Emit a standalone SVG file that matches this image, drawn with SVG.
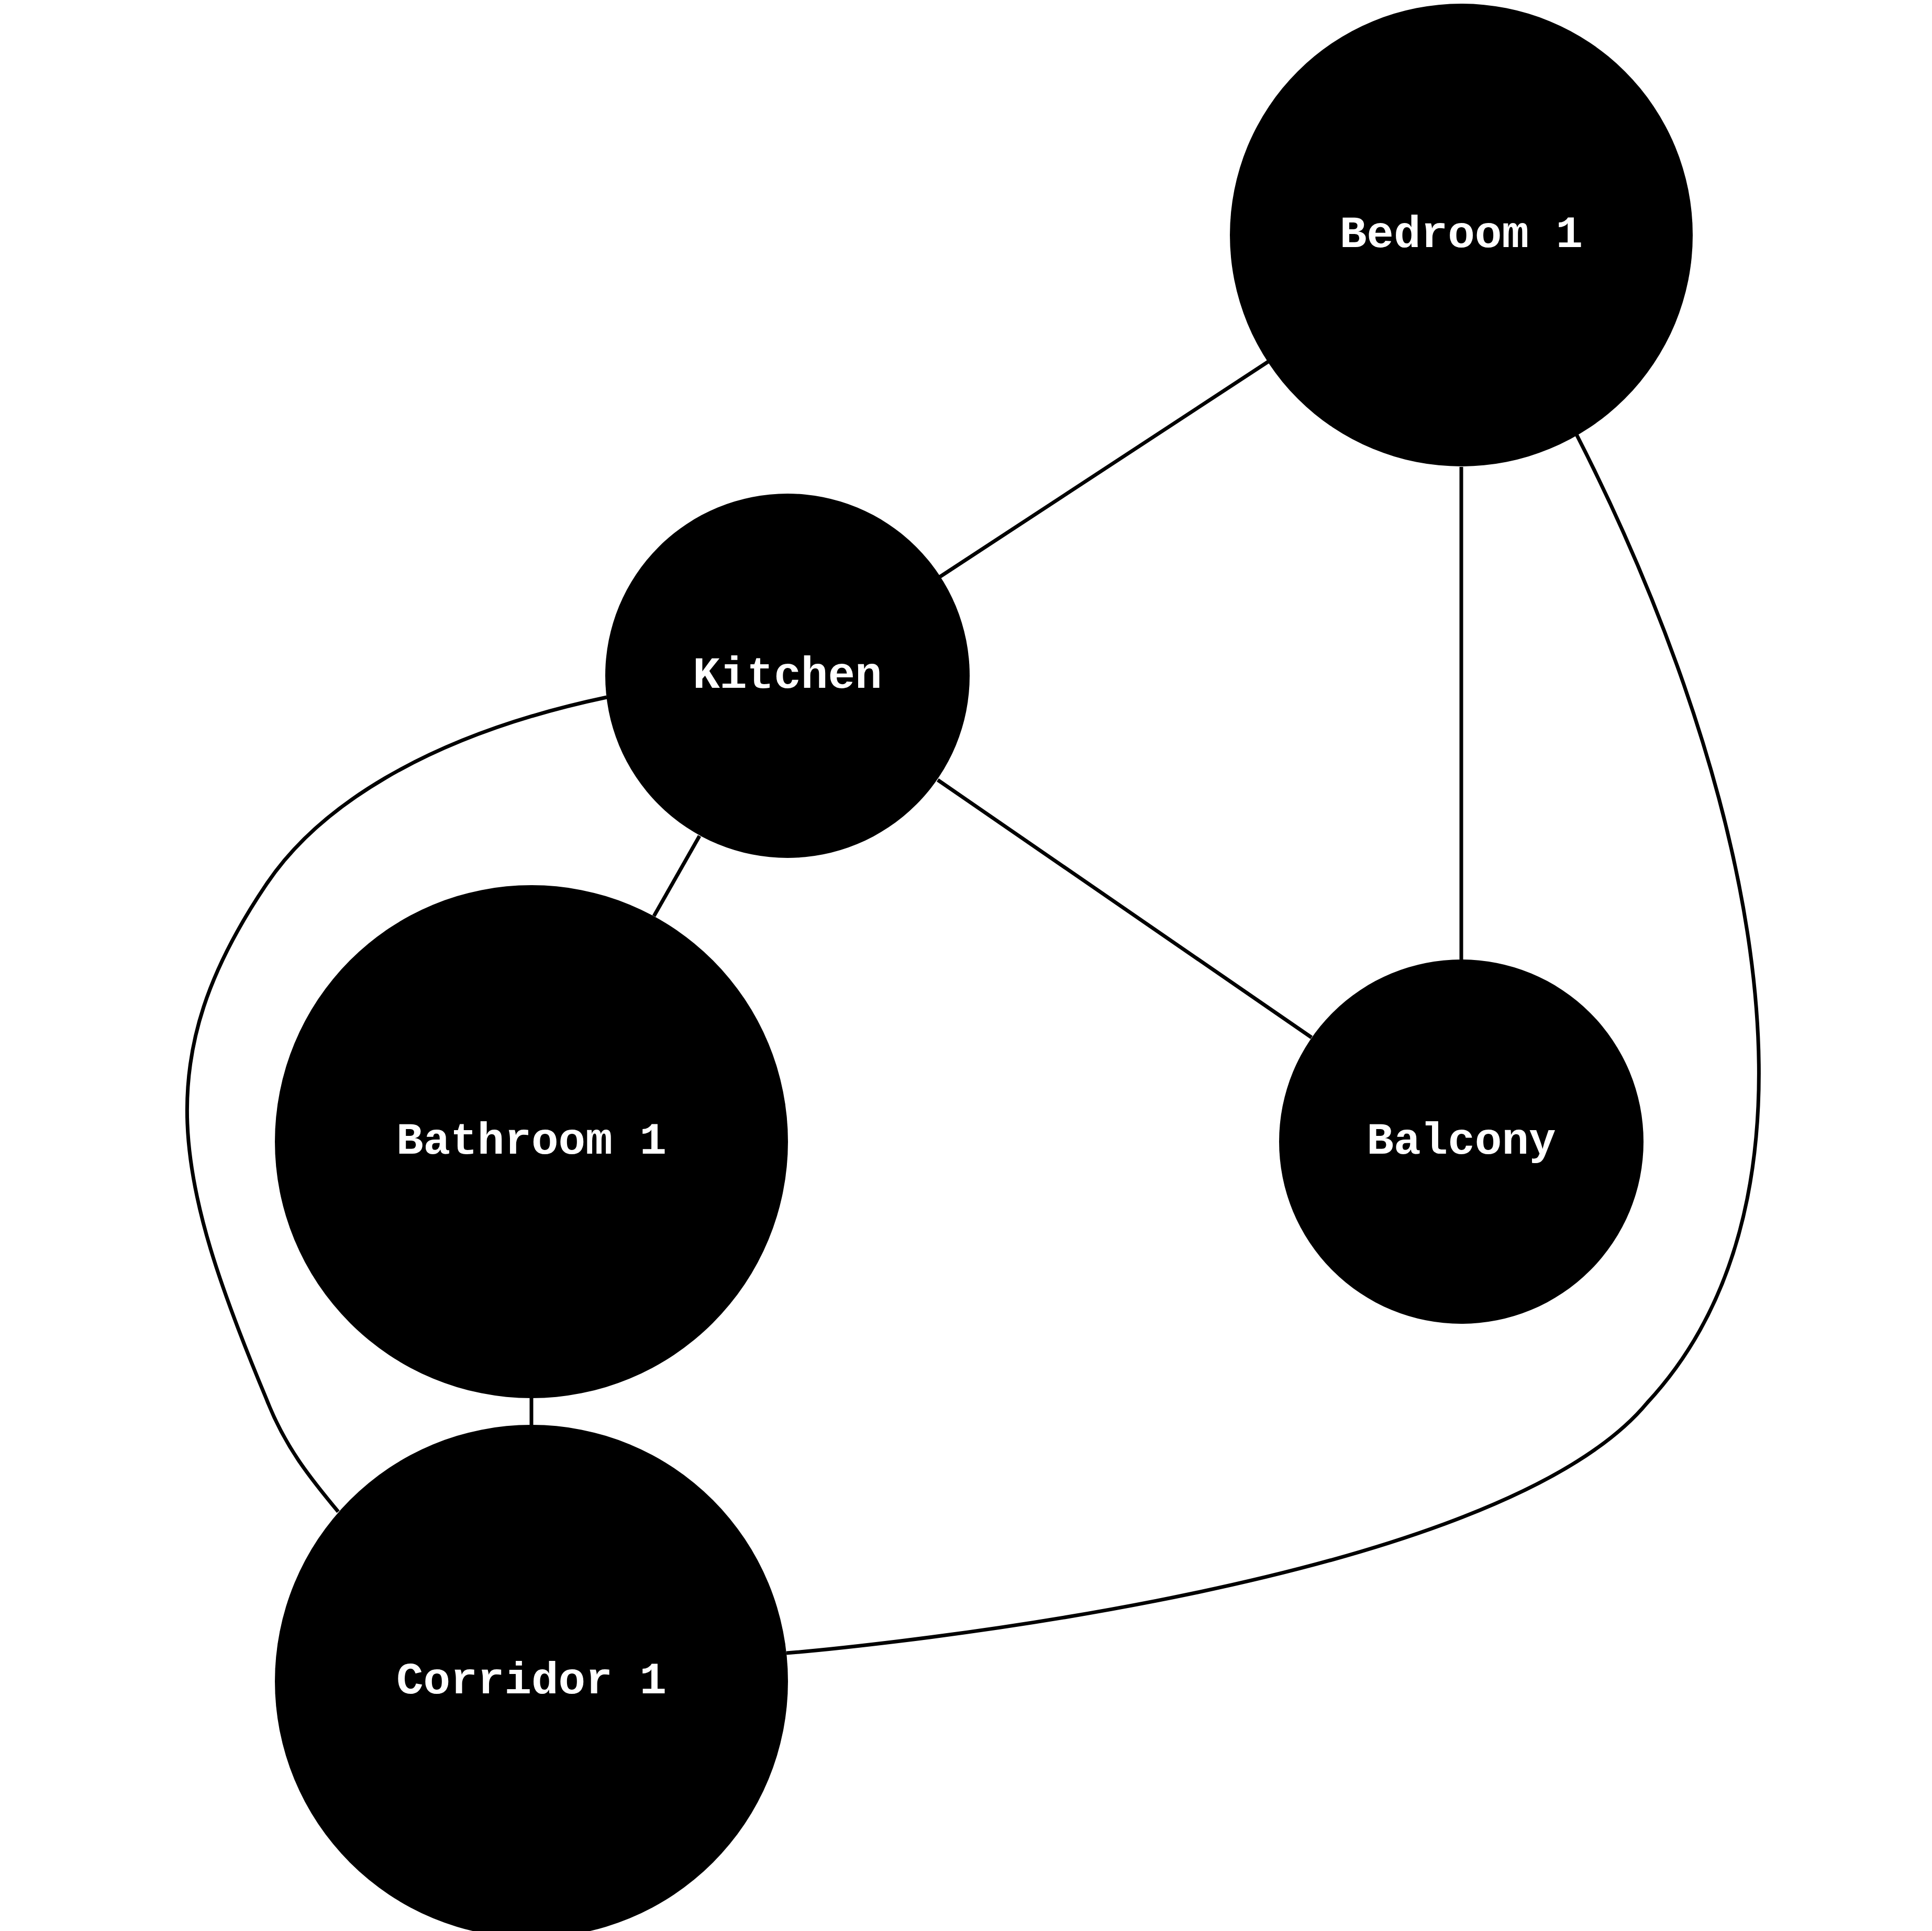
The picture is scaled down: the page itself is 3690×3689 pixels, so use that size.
<svg xmlns="http://www.w3.org/2000/svg" width="3690" height="3689" viewBox="0 0 3690 3689">
<style>
.e{stroke:#000;stroke-width:7;fill:none}
.n{fill:#000}
.t{fill:#fff;font-family:"Liberation Mono",monospace;font-weight:bold;font-size:86px;text-anchor:middle;dominant-baseline:central}
</style>
<rect width="3690" height="3689" fill="#fff"/>
<g id="edges">
<line class="e" x1="2422" y1="691" x2="1795" y2="1102"/>
<line class="e" x1="2791" y1="892" x2="2791" y2="1833"/>
<path class="e" d="M3011,830 C3312,1419 3548,2247 3146,2680 C2838,3051 1502,3158 1502,3158"/>
<line class="e" x1="1791" y1="1490" x2="2505" y2="1982"/>
<line class="e" x1="1336" y1="1597" x2="1249" y2="1750"/>
<path class="e" d="M1159,1332 C804,1407 603,1549 509,1689 C284,2022 331,2247 509,2673 C544,2763 591,2822 646,2888"/>
<line class="e" x1="1015" y1="2671" x2="1015" y2="2722"/>
</g>
<g id="bedroom1"><circle class="n" cx="2791" cy="449" r="442"/><text class="t" x="2791" y="449">Bedroom 1</text></g>
<g id="kitchen"><circle class="n" cx="1504" cy="1291" r="348"/><text class="t" x="1504" y="1291">Kitchen</text></g>
<g id="bathroom1"><circle class="n" cx="1015" cy="2181" r="490"/><text class="t" x="1015" y="2181">Bathroom 1</text></g>
<g id="balcony"><circle class="n" cx="2791" cy="2181" r="348"/><text class="t" x="2791" y="2181">Balcony</text></g>
<g id="corridor1"><circle class="n" cx="1015" cy="3212" r="490"/><text class="t" x="1015" y="3212">Corridor 1</text></g>
</svg>
